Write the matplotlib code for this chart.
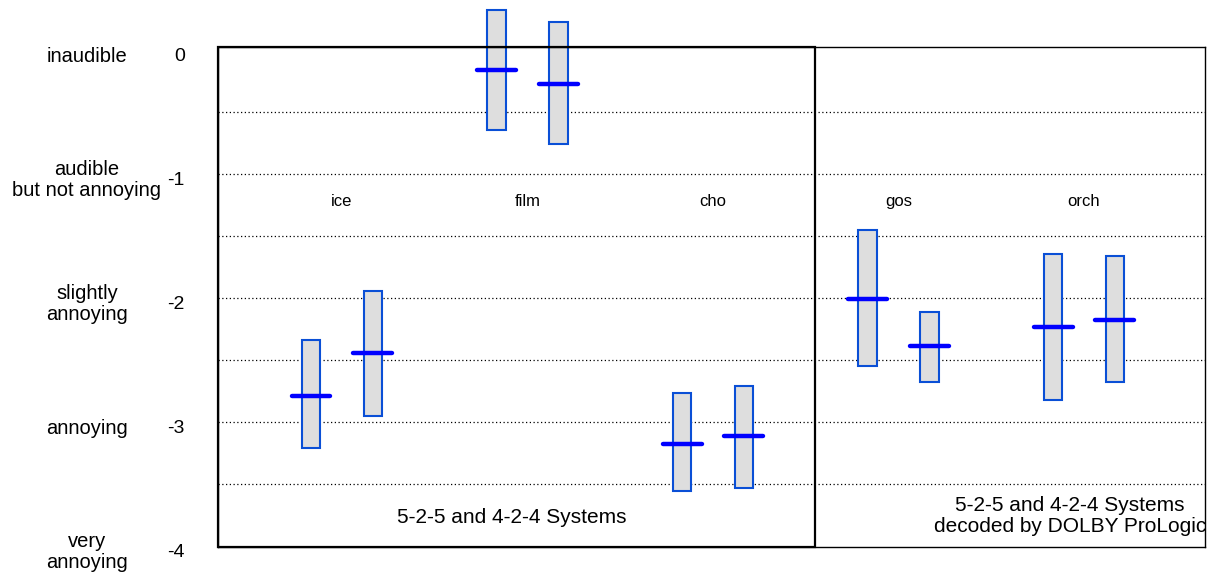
import matplotlib.pyplot as plt
from matplotlib.patches import Rectangle
from matplotlib.transforms import ScaledTranslation
import numpy as np

plt.rcParams['font.family'] = ['Liberation Sans', 'DejaVu Sans']

# Hoerversuch: Mittelwert und Konfidenzbereich je Programm (zwei Systeme pro Programm)
items = ['ice', 'film', 'cho', 'gos', 'orch']
mean_a = [-2.79, -0.16, -3.18, -2.01, -2.23]
low_a = [-3.21, -0.645, -3.56, -2.55, -2.82]
high_a = [-2.34, 0.32, -2.77, -1.45, -1.645]
mean_b = [-2.44, -0.274, -3.11, -2.39, -2.18]
low_b = [-2.95, -0.758, -3.53, -2.68, -2.68]
high_b = [-1.94, 0.226, -2.71, -2.11, -1.66]

grade_values = [0, -1, -2, -3, -4]
grade_names = ['inaudible', 'audible\nbut not annoying', 'slightly\nannoying',
               'annoying', 'very\nannoying']

fig = plt.figure(figsize=(12.17, 5.78), dpi=100)
ax = fig.add_axes([0.17913, 0.05363, 0.81101, 0.86505])

x = np.arange(len(items))
off = 1 / 6
bw = 0.1
mw = 0.21

# gepunktete Hilfslinien
for g in np.arange(-0.5, -3.51, -0.5):
    ax.axhline(g, color='black', lw=0.9, ls=(0, (1, 2)), zorder=1)

def draw_boxes(xs, lo, hi, mn):
    for xi, l, h, m in zip(xs, lo, hi, mn):
        ax.add_patch(Rectangle((xi - bw / 2, l), bw, h - l, facecolor='#dedede',
                               edgecolor='#0a4fd6', lw=1.5, zorder=2, clip_on=False))
        ax.plot([xi - mw / 2, xi + mw / 2], [m, m], color='#0000ff', lw=3.2,
                solid_capstyle='round', zorder=3, clip_on=False)

draw_boxes(x - off, low_a, high_a, mean_a)
draw_boxes(x + off, low_b, high_b, mean_b)

for xi, name in zip(x, items):
    ax.text(xi, -1.22, name, ha='center', va='center', fontsize=12)

ax.set_xlim(-0.668, 4.652)
ax.set_ylim(-4.008, 0.024)
ax.set_xticks([])
ax.set_yticks(grade_values)
ax.set_yticklabels([str(v) for v in grade_values], fontsize=14)
ax.tick_params(axis='y', length=0, pad=24)
shift = ScaledTranslation(0, -0.045, fig.dpi_scale_trans)
for lbl in ax.get_yticklabels():
    lbl.set_transform(lbl.get_transform() + shift)
for s in ax.spines.values():
    s.set_linewidth(1.0)
    s.set_zorder(5)

# linker Bereich dicker umrandet
ax.add_patch(Rectangle((-0.668, -4.008), 2.55 + 0.668, 4.032, fill=False,
                       edgecolor='black', lw=1.6, zorder=5, clip_on=False))

ax.text(0.914, -3.77, '5-2-5 and 4-2-4 Systems', ha='center', va='center', fontsize=15)
ax.text(3.925, -3.76, '5-2-5 and 4-2-4 Systems\ndecoded by DOLBY ProLogic',
        ha='center', va='center', fontsize=15, linespacing=1.15)

for v, name in zip(grade_values, grade_names):
    fig.text(87 / 1217, 1 - (50 - v * 124 + 6) / 578, name, ha='center', va='center',
             fontsize=14.5, linespacing=1.15)

fig.savefig('out.png', dpi=100)
